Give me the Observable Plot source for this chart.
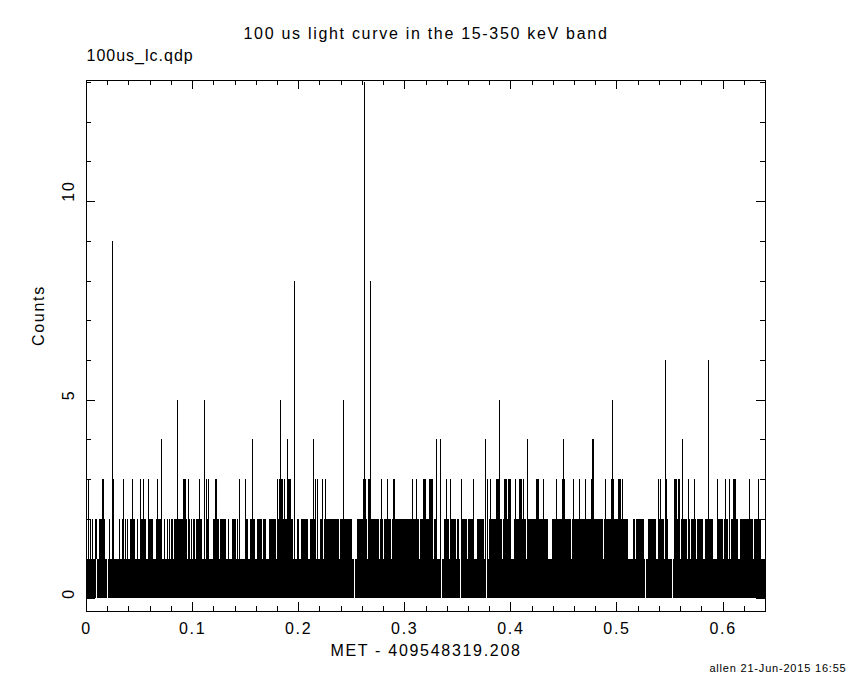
<!DOCTYPE html>
<html><head><meta charset="utf-8">
<script src="https://cdn.jsdelivr.net/npm/d3@7"></script>
<script src="https://cdn.jsdelivr.net/npm/@observablehq/plot@0.6"></script>
<style>
html,body{margin:0;padding:0;background:#fff;overflow:hidden}
svg text{letter-spacing:1.7px}
</style>
</head><body><div id="chart"></div>
<script>
// ---- texts ----
const titleText = "100 us light curve in the 15-350 keV band";
const fileText = "100us_lc.qdp";
const xLabel = "MET - 409548319.208";
const yLabel = "Counts";
const footerText = "allen 21-Jun-2015 16:55";

// ---- axis ticks ----
const xMajor = [0, 0.1, 0.2, 0.3, 0.4, 0.5, 0.6];
const xMinor = [0.02,0.04,0.06,0.08,0.12,0.14,0.16,0.18,0.22,0.24,0.26,0.28,0.32,0.34,0.36,0.38,0.42,0.44,0.46,0.48,0.52,0.54,0.56,0.58,0.62];
const yMajor = [0, 5, 10];
const yMinor = [1, 2, 3, 4, 6, 7, 8, 9, 11, 12, 13];

// ---- light-curve data (time since MET 409548319.208 s, 100 us bins) ----
// times where runs of empty (0-count) bins open gaps in the 0-1 count band
const zeroGaps = [0.0097, 0.0201, 0.2531, 0.3352, 0.3531, 0.3776, 0.5277, 0.5528];
const curveEnd = 0.64;
// time ranges containing bins with 2 counts
const twoCountRanges = [
[0,0.0003],[0.0019,0.0019],[0.0047,0.0047],[0.0063,0.0063],[0.0085,0.0085],[0.0101,0.0101],[0.0123,0.0142],[0.0151,0.0167],[0.0179,0.0179],[0.0220,0.0220],[0.0248,0.0261],[0.0314,0.0314],[0.0340,0.0352],[0.0368,0.0368],[0.0387,0.0387],[0.0415,0.0425],[0.0434,0.0459],[0.0488,0.0488],[0.0509,0.0528],[0.0538,0.0563],[0.0585,0.0629],[0.0660,0.0710],[0.0736,0.0736],[0.0771,0.0771],[0.0786,0.0786],[0.0802,0.0802],[0.0814,0.0814],[0.0830,0.0830],[0.0846,0.0906],[0.0918,0.0937],[0.0946,0.0946],[0.0962,0.0972],[0.0991,0.0991],[0.1016,0.1025],[0.1038,0.1038],[0.1054,0.1091],[0.1116,0.1116],[0.1132,0.1132],[0.1148,0.1148],[0.1198,0.1248],[0.1264,0.1292],[0.1302,0.1318],[0.1342,0.1342],[0.1377,0.1406],[0.1425,0.1425],[0.1450,0.1450],[0.1503,0.1525],[0.1547,0.1585],[0.1613,0.1626],[0.1632,0.1648],[0.1657,0.1657],[0.1676,0.1695],[0.1726,0.1739],[0.1745,0.1783],[0.1805,0.1858],[0.1871,0.1943],[0.1991,0.2006],[0.2028,0.2085],[0.2113,0.2167],[0.2208,0.2233],[0.2245,0.2264],[0.2271,0.2321],[0.2333,0.2340],[0.2349,0.2377],[0.2403,0.2437],[0.2446,0.2456],[0.2465,0.2507],[0.2557,0.2575],[0.2585,0.2642],[0.2660,0.2708],[0.2717,0.2755],[0.2774,0.2799],[0.2811,0.2868],[0.2887,0.2925],[0.2934,0.2997],[0.3003,0.3016],[0.3025,0.3034],[0.3044,0.3066],[0.3075,0.3132],[0.3157,0.3229],[0.3236,0.3267],[0.3283,0.3295],[0.3377,0.3393],[0.3399,0.3418],[0.3431,0.3450],[0.3459,0.3481],[0.3497,0.3507],[0.3538,0.3557],[0.3566,0.3588],[0.3601,0.3657],[0.3686,0.3717],[0.3723,0.3745],[0.3799,0.3896],[0.3906,0.3921],[0.3931,0.3972],[0.3978,0.4003],[0.4038,0.4063],[0.4072,0.4142],[0.4158,0.4186],[0.4195,0.4299],[0.4311,0.4346],[0.4396,0.4409],[0.4418,0.4434],[0.4447,0.4566],[0.4585,0.4660],[0.4673,0.4679],[0.4689,0.4726],[0.4736,0.4745],[0.4755,0.4868],[0.4887,0.4906],[0.4915,0.4950],[0.4962,0.5000],[0.5009,0.5031],[0.5044,0.5088],[0.5097,0.5107],[0.5160,0.5170],[0.5189,0.5201],[0.5208,0.5252],[0.5302,0.5321],[0.5330,0.5371],[0.5399,0.5443],[0.5462,0.5481],[0.5547,0.5594],[0.5616,0.5632],[0.5642,0.5663],[0.5676,0.5692],[0.5708,0.5748],[0.5761,0.5780],[0.5790,0.5808],[0.5840,0.5852],[0.5861,0.5908],[0.5953,0.5997],[0.6019,0.6047],[0.6088,0.6142],[0.6170,0.6217],[0.6223,0.6245],[0.6255,0.6283],[0.6299,0.6362]
];
// time ranges containing bins with 3 counts
const threeCountRanges = [
[0.0022,0.0022],[0.0151,0.0167],[0.0258,0.0258],[0.0352,0.0352],[0.0437,0.0437],[0.0513,0.0513],[0.0538,0.0538],[0.0588,0.0588],[0.0676,0.0676],[0.0918,0.0937],[0.0965,0.0965],[0.1069,0.1069],[0.1135,0.1135],[0.1151,0.1151],[0.1217,0.1233],[0.1447,0.1447],[0.1503,0.1503],[0.1805,0.1805],[0.1821,0.1852],[0.1871,0.1871],[0.1896,0.1925],[0.2160,0.2167],[0.2179,0.2179],[0.2229,0.2229],[0.2255,0.2255],[0.2620,0.2632],[0.2663,0.2679],[0.2783,0.2783],[0.2843,0.2843],[0.2896,0.2912],[0.3078,0.3078],[0.3116,0.3116],[0.3182,0.3198],[0.3236,0.3261],[0.3267,0.3267],[0.3399,0.3399],[0.3437,0.3437],[0.3541,0.3541],[0.3654,0.3654],[0.3786,0.3786],[0.3814,0.3814],[0.3868,0.3887],[0.3943,0.3959],[0.3981,0.3997],[0.4050,0.4050],[0.4088,0.4104],[0.4126,0.4126],[0.4245,0.4261],[0.4314,0.4314],[0.4437,0.4437],[0.4491,0.4509],[0.4597,0.4597],[0.4654,0.4654],[0.4711,0.4711],[0.4764,0.4783],[0.4899,0.4899],[0.4953,0.4972],[0.5019,0.5038],[0.5060,0.5060],[0.5399,0.5399],[0.5415,0.5415],[0.5469,0.5469],[0.5547,0.5566],[0.5585,0.5594],[0.5623,0.5623],[0.5682,0.5682],[0.5739,0.5739],[0.5953,0.5953],[0.6031,0.6031],[0.6069,0.6069],[0.6101,0.6126],[0.6258,0.6258],[0.6340,0.6340]
];
// individual bins with 4 or more counts
const spikeTimes  = [0.0248, 0.0708, 0.0861, 0.1116, 0.1569, 0.1833, 0.1899, 0.1956, 0.2144, 0.2418, 0.2616, 0.2673, 0.3295, 0.3333, 0.3758, 0.3890, 0.4154, 0.4494, 0.4766, 0.4780, 0.4956, 0.5456, 0.5616, 0.5861];
const spikeCounts = [9, 4, 5, 5, 4, 5, 4, 8, 4, 5, 13, 8, 4, 4, 4, 5, 4, 4, 4, 4, 5, 6, 4, 6];

// ---- derived tables ----
const gapHalf = 0.0005;
const oneCountBand = [];
{ let s = 0; for (const g of zeroGaps) { oneCountBand.push([s, g - gapHalf]); s = g + gapHalf; } oneCountBand.push([s, curveEnd]); }
const spikes = spikeTimes.map((t, i) => ({t, c: spikeCounts[i]}));

const W = 850, H = 680, mL = 86, mR = 85, mT = 80, mB = 69;
const FW = W - mL - mR, FH = H - mT - mB;
const font = "Liberation Sans, Arial, sans-serif";
const txt = {fill: "black", lineAnchor: "middle"};

const chart = Plot.plot({
  width: W, height: H,
  marginLeft: mL, marginRight: mR, marginTop: mT, marginBottom: mB,
  style: {fontFamily: font, fontSize: "16px", color: "black", background: "white"},
  x: {domain: [0, 0.64], axis: null},
  y: {domain: [-0.32, 13.05], axis: null},
  marks: [
    Plot.rect(oneCountBand, {x1: d => d[0], x2: d => d[1], y1: 0, y2: 1, fill: "black", shapeRendering: "crispEdges"}),
    Plot.rect(twoCountRanges, {x1: d => d[0], x2: d => d[1], y1: 1, y2: 2, fill: "black", insetLeft: -0.5, insetRight: -0.5, shapeRendering: "crispEdges"}),
    Plot.rect(threeCountRanges, {x1: d => d[0], x2: d => d[1], y1: 1, y2: 3, fill: "black", insetLeft: -0.5, insetRight: -0.5, shapeRendering: "crispEdges"}),
    Plot.ruleX(spikes, {x: "t", y1: 0, y2: "c", stroke: "black", strokeWidth: 1, shapeRendering: "crispEdges"}),
    // ticks (inside the frame, all four sides)
    Plot.tickX(xMajor, {x: d => d, insetTop: FH - 9, stroke: "black", shapeRendering: "crispEdges"}),
    Plot.tickX(xMajor, {x: d => d, insetBottom: FH - 9, stroke: "black", shapeRendering: "crispEdges"}),
    Plot.tickX(xMinor, {x: d => d, insetTop: FH - 5, stroke: "black", shapeRendering: "crispEdges"}),
    Plot.tickX(xMinor, {x: d => d, insetBottom: FH - 5, stroke: "black", shapeRendering: "crispEdges"}),
    Plot.tickY(yMajor, {y: d => d, insetRight: FW - 9, stroke: "black", shapeRendering: "crispEdges"}),
    Plot.tickY(yMajor, {y: d => d, insetLeft: FW - 9, stroke: "black", shapeRendering: "crispEdges"}),
    Plot.tickY(yMinor, {y: d => d, insetRight: FW - 5, stroke: "black", shapeRendering: "crispEdges"}),
    Plot.tickY(yMinor, {y: d => d, insetLeft: FW - 5, stroke: "black", shapeRendering: "crispEdges"}),
    Plot.frame({stroke: "black", shapeRendering: "crispEdges"}),
    // tick labels
    Plot.text(xMajor, {x: d => d, text: d => d === 0 ? "0" : d.toFixed(1), frameAnchor: "bottom", dy: 17, ...txt}),
    Plot.text(yMajor, {y: d => d, text: d => String(d), frameAnchor: "left", dx: -18, rotate: -90, ...txt}),
    // titles
    Plot.text([titleText], {text: d => d, frameAnchor: "top", dy: -47, ...txt}),
    Plot.text([fileText], {text: d => d, frameAnchor: "top-left", textAnchor: "start", dy: -25, ...txt}),
    Plot.text([xLabel], {text: d => d, frameAnchor: "bottom", dy: 39, ...txt}),
    Plot.text([yLabel], {text: d => d, frameAnchor: "left", dx: -48, rotate: -90, ...txt}),
    Plot.text([footerText], {text: d => d, frameAnchor: "bottom-right", textAnchor: "end", dx: 81, dy: 57, fontSize: 11, ...txt})
  ]
});
document.getElementById("chart").appendChild(chart);
const sel = d3.select(chart).selectAll("text");
sel.filter(function(){ return this.textContent === footerText; }).style("letter-spacing", "0.8px");
sel.filter(function(){ return this.textContent === fileText; }).style("letter-spacing", "1px");
</script>
</body></html>
